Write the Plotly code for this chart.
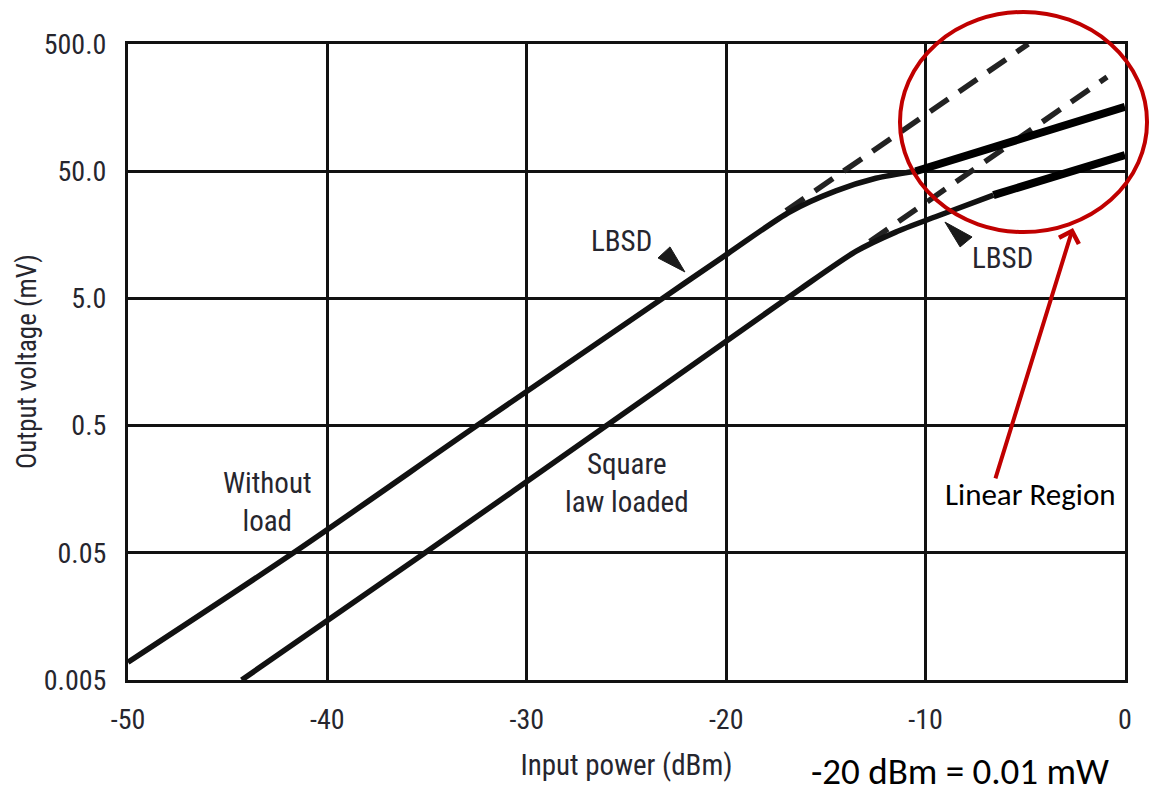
import numpy as np
import plotly.graph_objects as go

# Input power axis (dBm) and detector output (mV)
x_ticks = [-50, -40, -30, -20, -10, 0]
x_ticktext = ["-50", "-40", "-30", "-20", "-10", "0"]
y_ticks = [0.005, 0.05, 0.5, 5.0, 50.0, 500.0]
y_ticktext = ["0.005", "0.05", "0.5", "5.0", "50.0", "500.0"]

# Without load (square law then compression)
unloaded_dbm = [-50.0, -41.7, -32.5, -23.2, -19.9, -16.8, -14.5, -12.5, -10.5]
unloaded_mv = [0.0069, 0.05, 0.5, 5.0, 11.3, 24.0, 35.0, 44.0, 50.0]

# Square law loaded
loaded_dbm = [-44.3, -35.1, -26.0, -20.0, -16.3, -13.5, -11.5, -9.5, -6.6]
loaded_mv = [0.005, 0.05, 0.5, 2.3, 5.9, 11.7, 16.6, 21.9, 32.4]

# Ideal square-law extensions (dashed)
unloaded_ext_dbm = [-17.0, -4.85]
unloaded_ext_mv = [24.4, 500.0]
loaded_ext_dbm = [-12.8, -0.9]
loaded_ext_mv = [14.0, 275.0]

# Linear-region segments
unloaded_lin_dbm = [-10.5, 0.0]
unloaded_lin_mv = [50.0, 160.0]
loaded_lin_dbm = [-6.6, 0.0]
loaded_lin_mv = [32.4, 67.0]

# Pointer heads next to the LBSD labels
pointer1_dbm = [-22.07, -23.42, -22.82, -22.07]
pointer1_mv = [8.07, 10.4, 12.7, 8.07]
pointer2_dbm = [-9.03, -7.67, -8.27, -9.03]
pointer2_mv = [19.9, 15.2, 12.7, 19.9]

INK = "#111111"
TEXT = "#26262e"
RED = "#C00000"
LABEL_FONT = "Liberation Sans Narrow, Roboto Condensed, DejaVu Sans Condensed, Roboto, sans-serif"
NOTE_FONT = "Carlito, Lato, sans-serif"

fig = go.Figure()

dash_line = dict(color="#222222", width=5.5, dash="22px,13px")
fig.add_trace(go.Scatter(x=unloaded_ext_dbm, y=unloaded_ext_mv, mode="lines", line=dash_line))
fig.add_trace(go.Scatter(x=loaded_ext_dbm, y=loaded_ext_mv, mode="lines", line=dash_line))
fig.add_trace(go.Scatter(x=unloaded_dbm, y=unloaded_mv, mode="lines",
                         line=dict(color=INK, width=5.5, shape="spline", smoothing=0.8)))
fig.add_trace(go.Scatter(x=loaded_dbm, y=loaded_mv, mode="lines",
                         line=dict(color=INK, width=5.5, shape="spline", smoothing=0.7)))
fig.add_trace(go.Scatter(x=unloaded_lin_dbm, y=unloaded_lin_mv, mode="lines",
                         line=dict(color="#000000", width=8)))
fig.add_trace(go.Scatter(x=loaded_lin_dbm, y=loaded_lin_mv, mode="lines",
                         line=dict(color="#000000", width=8)))
for px_, py_ in ((pointer1_dbm, pointer1_mv), (pointer2_dbm, pointer2_mv)):
    fig.add_trace(go.Scatter(x=px_, y=py_, mode="lines", fill="toself",
                             fillcolor="#1a1a1a", line=dict(color="#1a1a1a", width=1)))


def txt(text, x, y, size=29, font=LABEL_FONT, color=TEXT, **kw):
    fig.add_annotation(text=text, x=x, y=np.log10(y), xref="x", yref="y",
                       showarrow=False, font=dict(family=font, size=size, color=color), **kw)


txt("Without<br>load", -42.98, 0.125, align="center")
txt("Square<br>law loaded", -24.97, 0.177, align="center")
txt("LBSD", -25.23, 14.1)
txt("LBSD", -6.12, 10.4)
txt("Linear Region", -4.76, 0.145, size=31, font=NOTE_FONT, color="#000000")

# Red arrow towards the linear region
fig.add_annotation(x=-2.61, y=np.log10(17.9), ax=-6.52, ay=np.log10(0.187),
                   xref="x", yref="y", axref="x", ayref="y", text="",
                   showarrow=True, arrowhead=4, arrowsize=1.0, arrowwidth=4, arrowcolor=RED)

fig.add_shape(type="circle", xref="paper", yref="paper",
              x0=0.7743, x1=1.0221, y0=0.7044, y1=1.0503,
              line=dict(color=RED, width=4))

fig.add_annotation(text="-20 dBm = 0.01 mW", xref="paper", yref="paper",
                   x=0.8345, y=-0.144, xanchor="center", yanchor="middle", showarrow=False,
                   font=dict(family=NOTE_FONT, size=37, color="#000000"))

# Vertical axis title
fig.add_annotation(text="Output voltage (mV)", xref="paper", yref="paper",
                   x=-0.1013, y=0.5, xanchor="center", yanchor="middle", textangle=-90,
                   showarrow=False, font=dict(family=LABEL_FONT, size=27, color=TEXT))

axis_common = dict(showgrid=True, gridcolor=INK, gridwidth=3, showline=True, mirror=True,
                   linecolor=INK, linewidth=3, zeroline=False, ticks="",
                   tickfont=dict(family=LABEL_FONT, size=28, color=TEXT))

fig.update_xaxes(range=[-50, 0], tickvals=x_ticks, ticktext=x_ticktext,
                 title=dict(text="Input power (dBm)", font=dict(family=LABEL_FONT, size=29, color=TEXT),
                            standoff=21),
                 ticklabelstandoff=12, **axis_common)
fig.update_yaxes(type="log", range=[np.log10(0.005), np.log10(500)], tickvals=y_ticks,
                 ticktext=y_ticktext, ticklabelstandoff=13, **axis_common)

fig.update_layout(width=1151, height=794, autosize=False, showlegend=False,
                  margin=dict(l=128, r=26, t=44, b=114),
                  plot_bgcolor="white", paper_bgcolor="white")

fig.write_html("out.html")
